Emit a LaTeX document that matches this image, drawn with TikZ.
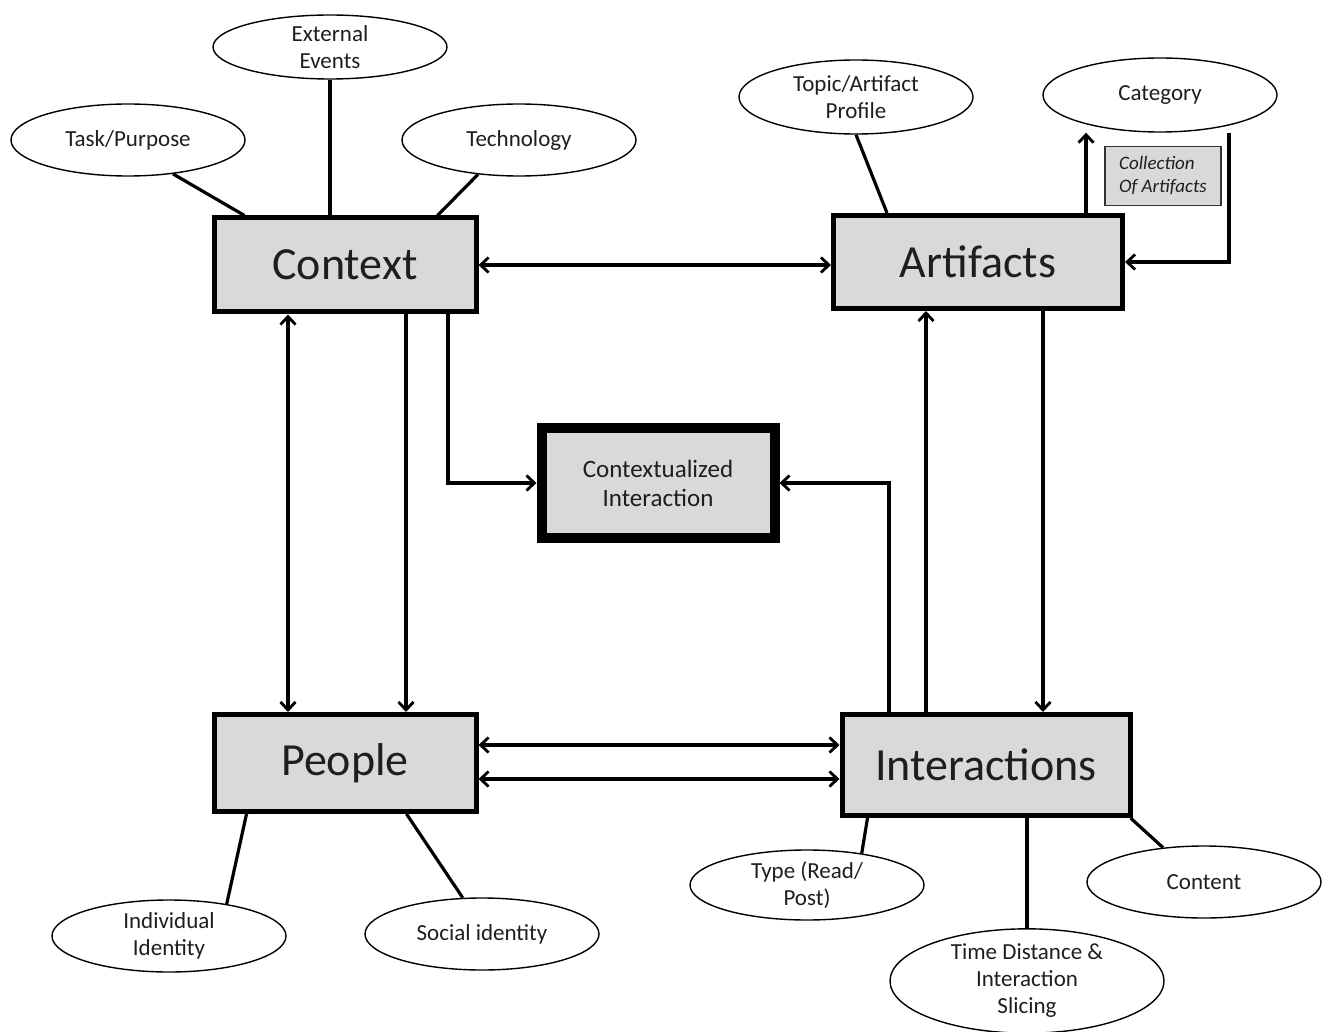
\documentclass[tikz,border=0pt]{standalone}
\usepackage{fontspec}
\setmainfont{Carlito}
\usetikzlibrary{arrows.meta,shapes.geometric,calc}
\definecolor{boxgray}{RGB}{217,217,217}
\definecolor{txt}{RGB}{30,30,30}
\begin{document}
\begin{tikzpicture}[x=1pt,y=-1pt,
  mainbox/.style={draw=black,fill=boxgray,line width=5pt,inner sep=0pt,text=txt,
    font=\fontsize{46}{52}\selectfont},
  attr/.style={draw=black,ellipse,line width=1.4pt,inner sep=0pt,minimum width=234pt,
    minimum height=70pt,align=center,text=txt,font=\fontsize{23}{27}\selectfont},
  link/.style={line width=3.2pt},
  arr/.style={line width=3.2pt,-{Straight Barb[length=8pt,width=15pt,line width=2.8pt]}},
  darr/.style={line width=3.2pt,{Straight Barb[length=8pt,width=15pt,line width=2.8pt]}-{Straight Barb[length=8pt,width=15pt,line width=2.8pt]}}
]
\useasboundingbox (0,0) rectangle (1325,1032);
% main boxes
\node[mainbox,minimum width=262pt,minimum height=94pt] (context) at (345,265) {Context};
\node[mainbox,minimum width=289pt,minimum height=93pt] (artifacts) at (978,262) {Artifacts};
\node[mainbox,minimum width=262pt,minimum height=97pt] (people) at (345,763) {People};
\node[mainbox,minimum width=288pt,minimum height=101pt] (interactions) at (986,765) {Interactions};
\node[draw=black,fill=boxgray,line width=10pt,inner sep=0pt,minimum width=233pt,minimum height=110pt,
  align=center,text=txt,font=\fontsize{25}{29}\selectfont] (ci) at (658,483) {Contextualized\\Interaction};
\node[draw=black!80,fill=boxgray,line width=1.2pt,inner sep=0pt,minimum width=116pt,minimum height=59pt,
  align=left,text=txt,font=\fontsize{19}{23}\selectfont\itshape] (coll) at (1163,176) {Collection\\Of Artifacts};
% attribute ellipses
\node[attr,minimum height=64pt] (ext) at (330,47) {External\\Events};
\node[attr,minimum height=72pt] (task) at (128,140) {Task/Purpose};
\node[attr,minimum height=72pt] (tech) at (519,140) {Technology};
\node[attr,minimum height=74pt] (topic) at (856,97) {Topic/Artifact\\Profile};
\node[attr,minimum height=74pt] (cat) at (1160,95) {Category};
\node[attr,minimum height=70pt] (type) at (807,885) {Type (Read/\\Post)};
\node[attr,minimum height=72pt] (content) at (1204,882) {Content};
\node[attr,minimum width=274pt,minimum height=92pt] (time) at (1027,981) {Time Distance \&\\Interaction\\Slicing};
\node[attr,minimum height=72pt] (indiv) at (169,936) {Individual\\Identity};
\node[attr,minimum height=72pt] (social) at (482,934) {Social identity};
% helper x positions
\coordinate (xcp) at (288,0);
\coordinate (xcp2) at (406,0);
\coordinate (xcci) at (448,0);
\coordinate (xici) at (889,0);
\coordinate (xia) at (926,0);
\coordinate (xai) at (1043,0);
\coordinate (xcu) at (1086,0);
\coordinate (xcd) at (1229,0);
\coordinate (ypi1) at (0,745);
\coordinate (ypi2) at (0,779);
% attribute links
\draw[link] (task.-37) -- ($(context.north west)+(33,0)$);
\draw[link] (ext.south) -- (ext.south |- context.north);
\draw[link] (tech.-140) -- ($(context.north east)+(-41,0)$);
\draw[link] (topic.south) -- ($(artifacts.north west)+(56,0)$);
\draw[link] ($(people.south west)+(35,0)$) -- (indiv.29);
\draw[link] ($(people.south west)+(195,0)$) -- (social.118);
\draw[link] ($(interactions.south west)+(28,0)$) -- (type.30);
\draw[link] (time.north) -- (time.north |- interactions.south);
\draw[link] ($(interactions.south east)+(-2,0)$) -- (content.140);
% arrows
\draw[arr] (xcu |- artifacts.north) -- (xcu |- cat.south);
\draw[arr] (xcd |- cat.south) |- (artifacts.east);
\draw[darr] (context.east) -- (context.east -| artifacts.west);
\draw[darr] (xcp |- context.south) -- (xcp |- people.north);
\draw[arr] (xcp2 |- context.south) -- (xcp2 |- people.north);
\draw[arr] (xcci |- context.south) |- (ci.west);
\draw[arr] (xici |- interactions.north) |- (ci.east);
\draw[arr] (xia |- interactions.north) -- (xia |- artifacts.south);
\draw[arr] (xai |- artifacts.south) -- (xai |- interactions.north);
\draw[darr] (people.east |- ypi1) -- (interactions.west |- ypi1);
\draw[darr] (people.east |- ypi2) -- (interactions.west |- ypi2);
\end{tikzpicture}
\end{document}
